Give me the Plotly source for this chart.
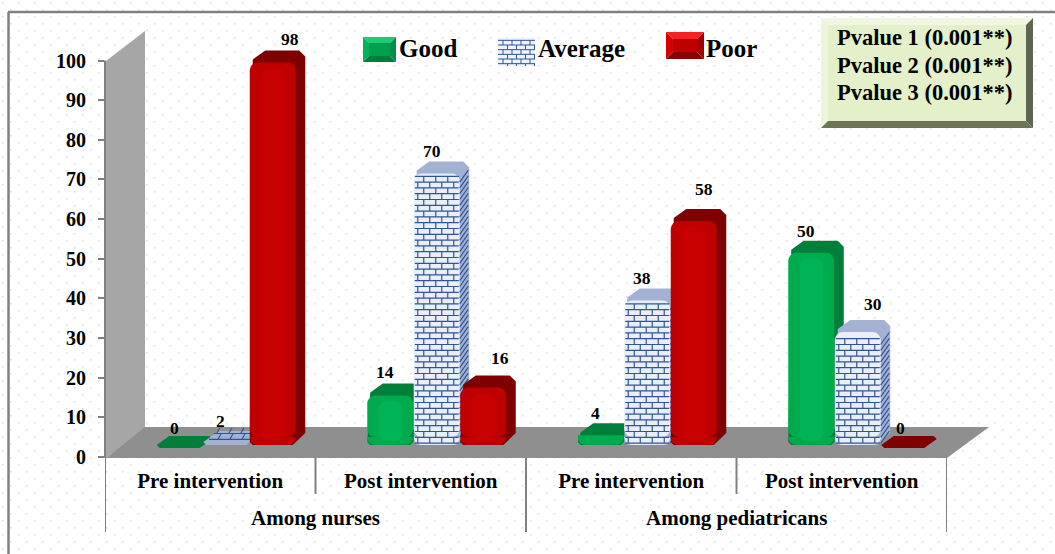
import base64
import math
import plotly.graph_objects as go

# ---------- data ----------
GROUP_NAMES = ["Among nurses", "Among pediatricans"]
STAGES = ["Pre intervention", "Post intervention", "Pre intervention", "Post intervention"]
GOOD = [0, 14, 4, 50]
AVERAGE = [2, 70, 38, 30]
POOR = [98, 16, 58, 0]
SERIES_NAMES = ["Good", "Average", "Poor"]
PVALUES = ["Pvalue 1 (0.001**)", "Pvalue 2 (0.001**)", "Pvalue 3 (0.001**)"]
Y_TICKS = [0, 10, 20, 30, 40, 50, 60, 70, 80, 90, 100]

# ---------- geometry / style ----------
W, H = 1055, 554
X0, X1, Y_ZERO = 105, 947, 457
PX_PER_UNIT = 3.965
Y_TOP_PX = 30
CAT_PX = (X1 - X0) / 4
SERIF = "Liberation Serif"
GRAY = "#808080"


def px(x):
    return x / W


def py(y):
    return 1 - y / H


Y_MAX = (Y_ZERO - Y_TOP_PX) / PX_PER_UNIT
BAR_W = 46 / CAT_PX
BAR_STEP = 46.5 / CAT_PX
BAR_START = -53.5 / CAT_PX
BASE = 1.5      # projected offset of the value scale inside the 3-D box
FLOOR = 3.0     # visible bottom of the front faces
FLAT = 2.25     # front edge of a zero-height bar
DEPTH_X = 9.5 / CAT_PX
DEPTH_Y = 12 / PX_PER_UNIT
RADIUS_X = 8 / CAT_PX
RADIUS_Y = 8 / PX_PER_UNIT
MIN_FRONT = 4   # smaller values only show their top face

STYLES = [
    dict(front="#00AB4E", sheen="#00B355", hull="#007F3A"),
    dict(front="#E9EEF8", sheen=None, hull="#A3B2D3"),
    dict(front="#BE0000", sheen="#C80000", hull="#7E0000"),
]
LABEL_DX = [[-5, -5, -5, -5], [-6, -5, -5, 15], [17, 17, 10, -4]]
LABEL_DY = [[29, 29, 28, 28], [28, 28, 28, 34], [29, 36, 38, 29]]

fig = go.Figure()


def left_edge(i, k):
    return i + BAR_START + k * BAR_STEP


def hull_points(values, k):
    xs, ys = [], []
    cx, cy = 3 / CAT_PX, 3 / PX_PER_UNIT
    for i, v in enumerate(values):
        a = left_edge(i, k)
        b = a + BAR_W
        top = BASE + v
        if v == 0:
            xs += [a + cx, b - cx, b + DEPTH_X, b + DEPTH_X - cx, a + DEPTH_X + cx, a, a + cx, None]
            ys += [FLAT, FLAT, FLAT + DEPTH_Y - cy, FLAT + DEPTH_Y, FLAT + DEPTH_Y, FLAT + cy, FLAT, None]
        else:
            xs += [a + cx, b - cx, b + DEPTH_X, b + DEPTH_X, b + DEPTH_X - 2 * cx,
                   a + DEPTH_X + 2 * cx, a + cx, a, a + cx, None]
            ys += [FLOOR, FLOOR, FLOOR + DEPTH_Y, top + DEPTH_Y - 2 * cy, top + DEPTH_Y,
                   top + DEPTH_Y, top + cy, FLOOR + cy, FLOOR, None]
    return xs, ys


def cap_points(values, k):
    xs, ys = [], []
    for i, v in enumerate(values):
        if v < MIN_FRONT:
            continue
        a = left_edge(i, k)
        b = a + BAR_W
        for deg in range(180, 271, 15):
            t = math.radians(deg)
            xs.append(a + RADIUS_X + RADIUS_X * math.cos(t))
            ys.append(FLOOR + RADIUS_Y + RADIUS_Y * math.sin(t))
        for deg in range(270, 361, 15):
            t = math.radians(deg)
            xs.append(b - RADIUS_X + RADIUS_X * math.cos(t))
            ys.append(FLOOR + RADIUS_Y + RADIUS_Y * math.sin(t))
        xs.append(None)
        ys.append(None)
    return xs, ys


def brick_points(values, k):
    xs, ys = [], []
    row = 5.8 / PX_PER_UNIT
    brick = 12 / CAT_PX
    for i, v in enumerate(values):
        a = left_edge(i, k) + 1 / CAT_PX
        b = a + BAR_W - 2 / CAT_PX
        top = BASE + v
        if v < MIN_FRONT:
            for j in (1, 2):
                y = FLOOR + j * row
                xs += [a + j * DEPTH_X / 2, b + j * DEPTH_X / 2, None]
                ys += [y, y, None]
                for m in range(4):
                    xv = a + j * DEPTH_X / 2 + (m + 0.25 + 0.5 * (j % 2)) * brick
                    xs += [xv, xv + DEPTH_X / 3, None]
                    ys += [y, y + row, None]
            continue
        y = FLOOR + 0.5
        n = 0
        while y + row < top - 0.4:
            xs += [a, b, None]
            ys += [y, y, None]
            xv = a + (n % 2) * brick / 2 + brick / 4
            while xv < b:
                xs += [xv, xv, None]
                ys += [y, y + row, None]
                xv += brick
            # receding rows on the side face
            xs += [b + 1 / CAT_PX, b + DEPTH_X, None]
            ys += [y, y + DEPTH_Y, None]
            y += row
            n += 1
        xs += [a, b, None]
        ys += [y, y, None]
    return xs, ys


for k, (name, values, st) in enumerate(zip(SERIES_NAMES, [GOOD, AVERAGE, POOR], STYLES)):
    pos = list(range(4))
    offs = [BAR_START + k * BAR_STEP] * 4
    hx, hy = hull_points(values, k)
    fig.add_trace(go.Scatter(x=hx, y=hy, mode="lines", fill="toself", fillcolor=st["hull"],
                             line=dict(width=0, color=st["hull"]), showlegend=False, hoverinfo="skip",
                             zorder=4 * k))
    bar_base = FLOOR + RADIUS_Y
    main = [BASE + v - bar_base if v >= MIN_FRONT else None for v in values]
    fig.add_trace(go.Bar(x=pos, y=main, base=[bar_base] * 4, width=BAR_W, offset=offs, name=name,
                         marker=dict(color=st["front"], line_width=0), showlegend=False,
                         customdata=values, hovertemplate=name + ": %{customdata}<extra></extra>",
                         zorder=4 * k + 1))
    cx_, cy_ = cap_points(values, k)
    fig.add_trace(go.Scatter(x=cx_, y=cy_, mode="lines", fill="toself", fillcolor=st["front"],
                             line=dict(width=0, color=st["front"]), showlegend=False, hoverinfo="skip",
                             zorder=4 * k + 1))
    if st["sheen"]:
        inset = 11 / CAT_PX
        fig.add_trace(go.Bar(x=pos, y=[BASE + v - FLOOR - 2.5 if v > 6 else None for v in values],
                             base=[FLOOR + 1] * 4, width=BAR_W - 2 * inset,
                             offset=[o + inset for o in offs],
                             marker=dict(color=st["sheen"], line_width=0), showlegend=False,
                             hoverinfo="skip", zorder=4 * k + 2))
    else:
        bx, by = brick_points(values, k)
        fig.add_trace(go.Scatter(x=bx, y=by, mode="lines", line=dict(width=1.2, color="#2F5597"),
                                 showlegend=False, hoverinfo="skip", zorder=4 * k + 2))

# ---------- value labels ----------
annotations = []
for k, values in enumerate([GOOD, AVERAGE, POOR]):
    for i, v in enumerate(values):
        annotations.append(dict(
            x=left_edge(i, k) + BAR_W / 2, y=v, xref="x", yref="y",
            text=str(v), showarrow=False, xshift=LABEL_DX[k][i], yshift=LABEL_DY[k][i],
            xanchor="center", yanchor="middle",
            font=dict(family=SERIF, size=17.5, color="#000000", weight=700)))

# ---------- group labels ----------
for txt, xc in zip(GROUP_NAMES, [0.5, 2.5]):
    annotations.append(dict(x=xc, y=py(518), xref="x", yref="paper", text=txt, showarrow=False,
                            xanchor="center", yanchor="middle",
                            font=dict(family=SERIF, size=21, color="#000000", weight=700)))

# ---------- legend and p-value text ----------
for txt, x_left in zip(SERIES_NAMES, [397, 536, 704]):
    annotations.append(dict(x=px(x_left), y=py(48), xref="paper", yref="paper", text=txt,
                            showarrow=False, xanchor="left", yanchor="middle",
                            font=dict(family=SERIF, size=25, color="#000000", weight=700)))
for txt, yy in zip(PVALUES, [38, 65, 92]):
    annotations.append(dict(x=px(925), y=py(yy), xref="paper", yref="paper", text=txt,
                            showarrow=False, xanchor="center", yanchor="middle",
                            font=dict(family=SERIF, size=22.5, color="#000000", weight=700)))

# ---------- decoration shapes ----------
shapes = []


def poly(points, fill, layer="below"):
    path = "M" + " L".join(f"{px(a):.5f},{py(b):.5f}" for a, b in points) + " Z"
    shapes.append(dict(type="path", path=path, xref="paper", yref="paper", fillcolor=fill,
                       line=dict(width=0), layer=layer))


def bevel(x0, y0, x1, y1, bw, center, top, left, bottom, right, layer="above"):
    poly([(x0, y0), (x1, y0), (x1 - bw, y0 + bw), (x0 + bw, y0 + bw)], top, layer)
    poly([(x0, y0), (x0 + bw, y0 + bw), (x0 + bw, y1 - bw), (x0, y1)], left, layer)
    poly([(x0, y1), (x0 + bw, y1 - bw), (x1 - bw, y1 - bw), (x1, y1)], bottom, layer)
    poly([(x1, y0), (x1, y1), (x1 - bw, y1 - bw), (x1 - bw, y0 + bw)], right, layer)
    poly([(x0 + bw, y0 + bw), (x1 - bw, y0 + bw), (x1 - bw, y1 - bw), (x0 + bw, y1 - bw)], center, layer)


def line(x0, y0, x1, y1, color, width, layer="above"):
    shapes.append(dict(type="line", x0=px(x0), x1=px(x1), y0=py(y0), y1=py(y1), xref="paper",
                       yref="paper", line=dict(color=color, width=width), layer=layer))


# frame (top and left only)
line(8, 12, W, 12, GRAY, 2.5, "below")
line(8.5, 12, 8.5, H, GRAY, 2.5, "below")
# wall and floor
poly([(106, 61), (145, 31), (145, 428), (106, 458)], "#A6A6A6")
poly([(106, 458), (145, 427), (989, 427), (947, 458)], "#8F8F8F")
# y-axis line
line(105, 60.5, 105, 458, GRAY, 2, "below")
# category dividers, in x-axis units
for xv, long_tick in zip([-0.5, 0.5, 1.5, 2.5, 3.5], [True, False, True, False, True]):
    shapes.append(dict(type="line", x0=xv, x1=xv, xref="x", y0=py(458), y1=py(532 if long_tick else 494),
                       yref="paper", line=dict(color=GRAY, width=2), layer="below"))
# legend swatches
bevel(363, 37, 396, 62, 6, "#00A050", "#1FCB73", "#00B45A", "#007F3A", "#008F45")
bevel(498, 38, 535, 66, 0, "#EEF2FA", "#EEF2FA", "#EEF2FA", "#EEF2FA", "#EEF2FA")
for j in range(6):
    yy = 38 + (j + 0.5) * 28 / 6
    line(498, yy, 535, yy, "#2F5597", 1)
    for m in range(4):
        xx = 498 + 5 + m * 9 + (j % 2) * 4.5
        if xx < 535:
            line(xx, yy, xx, min(yy + 28 / 6, 66), "#2F5597", 1)
bevel(666, 32, 704, 59, 7, "#BE0000", "#F52222", "#D60000", "#8A0000", "#A00000")
# p-value box
bevel(821, 18, 1033, 128, 7, "#E3F0C9", "#F1F7E2", "#EDF5DB", "#6E7458", "#5F6650")

# dotted page background
dots = ("<svg xmlns='http://www.w3.org/2000/svg' width='1055' height='554'><defs>"
        "<pattern id='p' width='16' height='14' patternUnits='userSpaceOnUse'>"
        "<rect x='2' y='2' width='1.6' height='1.6' fill='#E0E0E0'/>"
        "<rect x='10' y='9' width='1.6' height='1.6' fill='#E0E0E0'/>"
        "</pattern></defs><rect width='1055' height='554' fill='#FFFFFF'/>"
        "<rect width='1055' height='554' fill='url(#p)'/></svg>")
dots_uri = "data:image/svg+xml;base64," + base64.b64encode(dots.encode()).decode()

fig.update_layout(
    width=W, height=H, template="none", showlegend=False, barmode="overlay",
    barcornerradius=8,
    margin=dict(l=0, r=0, t=0, b=0, pad=0),
    paper_bgcolor="#FFFFFF", plot_bgcolor="rgba(0,0,0,0)",
    font=dict(family=SERIF, color="#000000"),
    xaxis=dict(domain=[px(X0), px(X1)], range=[-0.5, 3.5], anchor="y",
               showgrid=False, zeroline=False, showline=True, linecolor=GRAY, linewidth=2,
               tickvals=[0, 1, 2, 3], ticktext=STAGES, ticks="", ticklabelstandoff=4, automargin=False,
               tickfont=dict(family=SERIF, size=21, color="#000000", weight=700)),
    yaxis=dict(domain=[py(Y_ZERO), py(Y_TOP_PX)], range=[0, Y_MAX], anchor="x", showgrid=False,
               zeroline=False, showline=False, tickvals=Y_TICKS, ticks="outside", ticklen=6, tickwidth=2,
               tickcolor=GRAY, ticklabelstandoff=8, automargin=False,
               tickfont=dict(family=SERIF, size=20, color="#000000", weight=700)),
    annotations=annotations, shapes=shapes,
    images=[dict(source=dots_uri, xref="paper", yref="paper", x=0, y=1, sizex=1, sizey=1,
                 xanchor="left", yanchor="top", sizing="stretch", layer="below")],
)

fig.write_html("out.html", post_script="document.body.style.margin='0';",
               config=dict(displayModeBar=False))
